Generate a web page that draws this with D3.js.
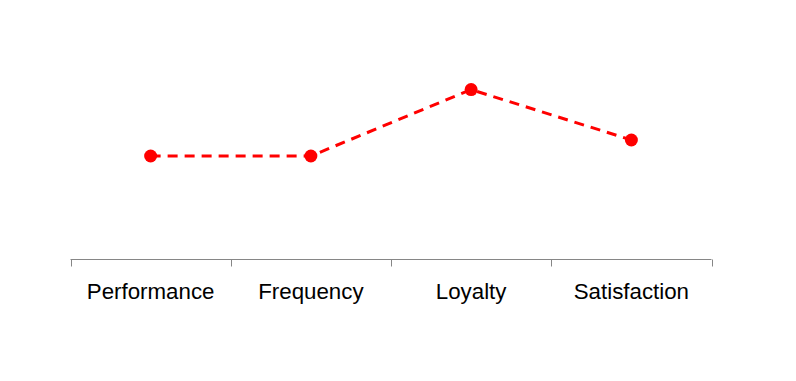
<!DOCTYPE html>
<html><head><meta charset="utf-8">
<script src="https://cdn.jsdelivr.net/npm/d3@7"></script>
<style>html,body{margin:0;padding:0;background:#fff;}</style>
</head><body>
<svg id="chart" width="796" height="381"></svg>
<script>
const categories = ["Performance", "Frequency", "Loyalty", "Satisfaction"];
const values = [2.6, 2.6, 4.26, 3.0];
const yDomain = [0, 6];

const svg = d3.select("#chart");
const x = d3.scaleBand().domain(categories).range([70.5, 711.5]);
const y = d3.scaleLinear().domain(yDomain).range([260, 20]);

const axisG = svg.append("g").attr("transform", "translate(0,259.5)");
axisG.append("line").attr("x1", 70.5).attr("x2", 711.5).attr("stroke", "#868686").attr("stroke-width", 1);
const edges = categories.map(c => x(c)).concat([x.range()[1]]);
axisG.selectAll("line.tick").data(edges).enter().append("line")
  .attr("class", "tick")
  .attr("x1", d => Math.round(d) + 0.5).attr("x2", d => Math.round(d) + 0.5)
  .attr("y1", 0).attr("y2", 7).attr("stroke", "#868686");
axisG.selectAll("text").data(categories).enter().append("text")
  .attr("x", d => x(d) + x.bandwidth() / 2)
  .attr("y", 39.5)
  .attr("text-anchor", "middle")
  .attr("font-family", "Liberation Sans, Arial, sans-serif")
  .attr("font-size", 22.3)
  .attr("fill", "#000")
  .text(d => d);

const data = categories.map((c, i) => ({c, v: values[i]}));
const line = d3.line().x(d => x(d.c) + x.bandwidth() / 2).y(d => y(d.v));
svg.append("path").datum(data).attr("d", line)
  .attr("fill", "none").attr("stroke", "#ff0000").attr("stroke-width", 3)
  .attr("stroke-dasharray", "10,7");
svg.selectAll("circle").data(data).enter().append("circle")
  .attr("cx", d => x(d.c) + x.bandwidth() / 2)
  .attr("cy", d => y(d.v))
  .attr("r", 6.5).attr("fill", "#ff0000");
</script>
</body></html>
